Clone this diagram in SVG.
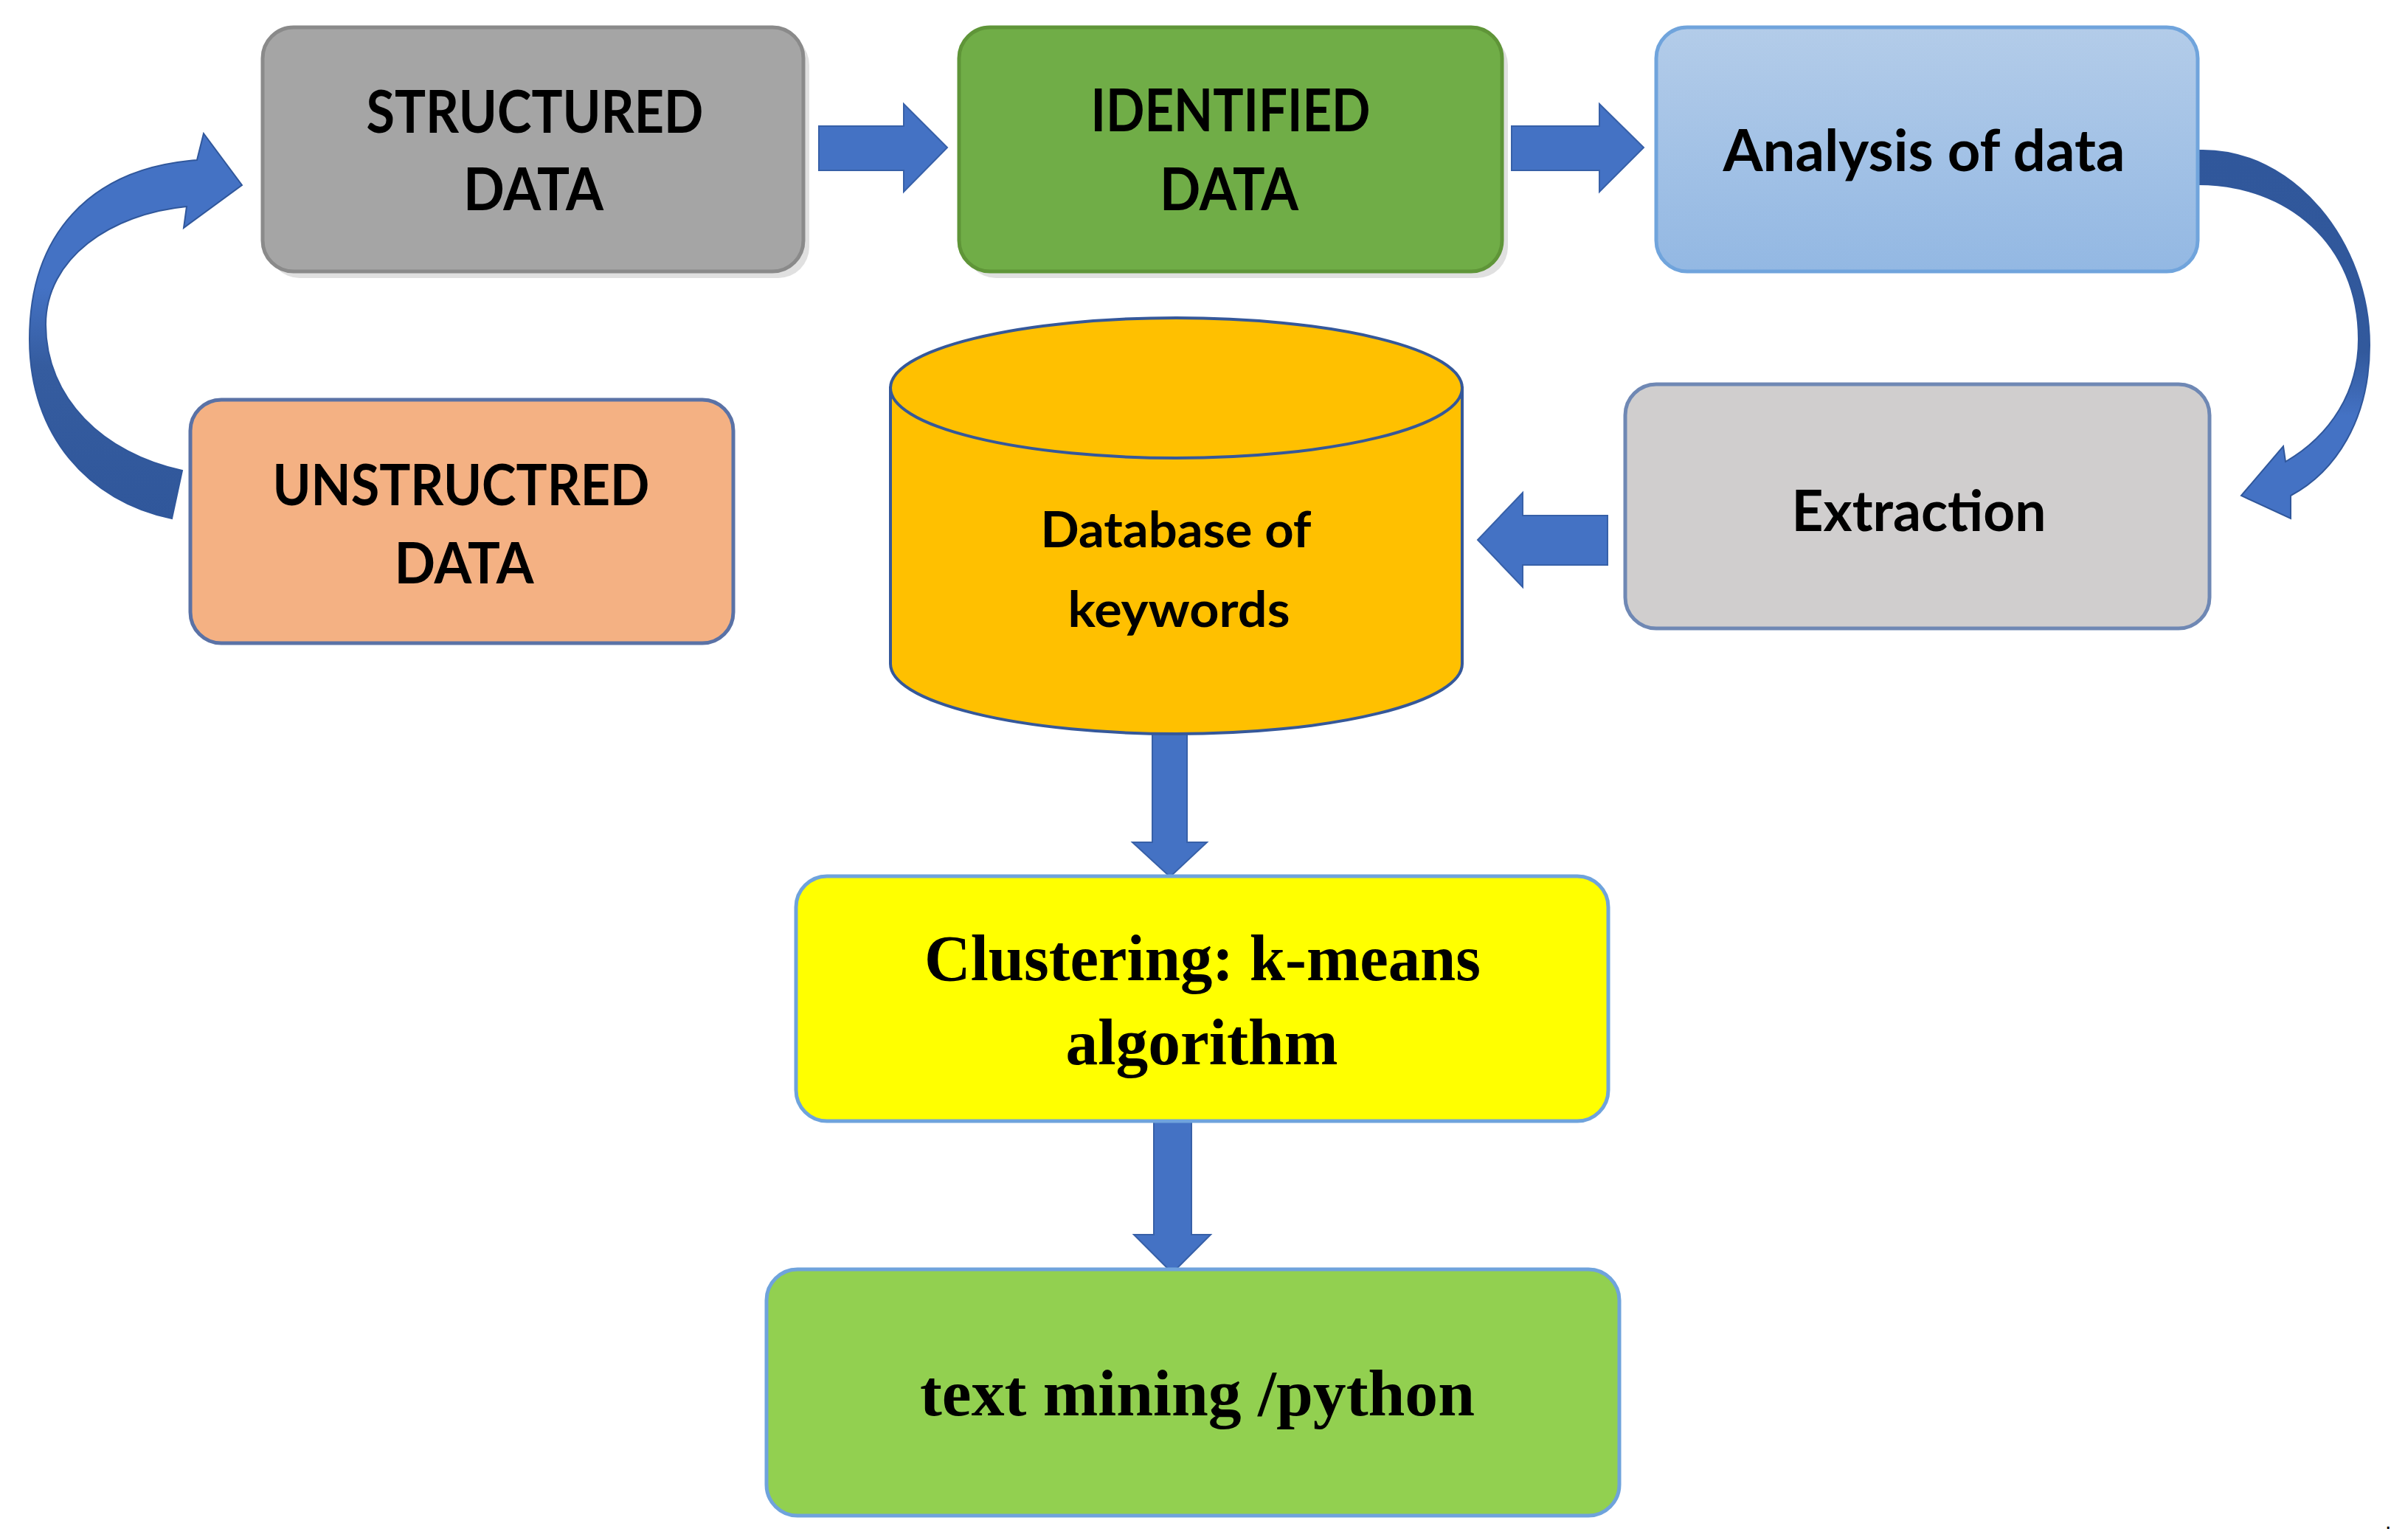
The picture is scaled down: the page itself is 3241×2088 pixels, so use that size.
<svg xmlns="http://www.w3.org/2000/svg" width="3241" height="2088" viewBox="0 0 3241 2088">
<defs>
<linearGradient id="gAnalysis" x1="0" y1="0" x2="0" y2="1">
<stop offset="0" stop-color="#b3cce9"/><stop offset="1" stop-color="#93b8e3"/>
</linearGradient>
<linearGradient id="gLeftArc" gradientUnits="userSpaceOnUse" x1="0" y1="180" x2="0" y2="705">
<stop offset="0" stop-color="#4472c4"/><stop offset="0.4" stop-color="#4472c4"/><stop offset="0.6" stop-color="#355c9f"/><stop offset="1" stop-color="#30579b"/>
</linearGradient>
<linearGradient id="gRightArc" gradientUnits="userSpaceOnUse" x1="0" y1="200" x2="0" y2="705">
<stop offset="0" stop-color="#30579b"/><stop offset="0.55" stop-color="#32599c"/><stop offset="0.72" stop-color="#4472c4"/><stop offset="1" stop-color="#4472c4"/>
</linearGradient>
</defs>
<style>
.sans{font-family:Lato,"Liberation Sans","DejaVu Sans",sans-serif;font-weight:bold;fill:#000;text-anchor:middle}
.serif{font-family:"Liberation Serif","DejaVu Serif",serif;font-weight:bold;fill:#000;text-anchor:middle}
.arrow{fill:#4472c4;stroke:#3760a8;stroke-width:2}
.shadow{fill:#000;opacity:0.12}
</style>
<rect width="3241" height="2088" fill="#ffffff"/>

<g id="connectors">
<path class="arrow" d="M1110,171 L1225,171 L1225,141 L1284,200 L1225,260 L1225,231 L1110,231 Z"/>
<path class="arrow" d="M2049,171 L2168,171 L2168,141 L2228,200 L2168,260 L2168,231 L2049,231 Z"/>
<path class="arrow" d="M2179,699 L2064,699 L2064,668 L2003,732 L2064,796 L2064,766 L2179,766 Z"/>
<path class="arrow" d="M1562,985 L1609,985 L1609,1142 L1636,1142 L1586,1189 L1535,1142 L1562,1142 Z"/>
<path class="arrow" d="M1564,1520 L1615,1520 L1615,1674 L1641,1674 L1589,1726 L1537,1674 L1564,1674 Z"/>
<path fill="url(#gLeftArc)" stroke="#30579b" stroke-width="2" d="M233,703 C120,680 40,590 40,460 C40,320 120,228 267,217 L276,181 L328,251 L249,309 L253,280 C150,290 62,350 62,440 C62,540 140,615 247,638 Z"/>
<path fill="url(#gRightArc)" stroke="#30579b" stroke-width="2" d="M2980,204 C3110,200 3212,330 3212,468 C3212,570 3165,640 3105,672 L3105,703 L3038,672 L3095,605 L3098,626 C3160,590 3197,530 3197,460 C3197,330 3100,250 2980,250 Z"/>
</g>

<g id="structured">
<rect class="shadow" x="364" y="46" width="733" height="331" rx="42"/>
<rect x="356" y="37" width="733" height="331" rx="42" fill="#a5a5a5" stroke="#8a8a8a" stroke-width="5"/>
<text class="sans" x="725" y="180" font-size="80" textLength="457" lengthAdjust="spacingAndGlyphs">STRUCTURED</text>
<text class="sans" x="723" y="285" font-size="80" textLength="190" lengthAdjust="spacingAndGlyphs">DATA</text>
</g>

<g id="identified">
<rect class="shadow" x="1308" y="46" width="736" height="331" rx="42"/>
<rect x="1300" y="37" width="736" height="331" rx="42" fill="#70ad47" stroke="#5f9538" stroke-width="5"/>
<text class="sans" x="1668" y="178" font-size="80" textLength="379" lengthAdjust="spacingAndGlyphs">IDENTIFIED</text>
<text class="sans" x="1666" y="285" font-size="80" textLength="188" lengthAdjust="spacingAndGlyphs">DATA</text>
</g>

<g id="analysis">
<rect x="2245" y="37" width="734" height="331" rx="42" fill="url(#gAnalysis)" stroke="#70a4dc" stroke-width="5"/>
<text class="sans" x="2608" y="232" font-size="78" textLength="545" lengthAdjust="spacingAndGlyphs">Analysis of data</text>
</g>

<g id="extraction">
<rect x="2203" y="521" width="792" height="331" rx="42" fill="#d0cece" stroke="#6f88b4" stroke-width="5"/>
<text class="sans" x="2601" y="720" font-size="76" textLength="345" lengthAdjust="spacingAndGlyphs">Extraction</text>
</g>

<g id="unstructured">
<rect x="258" y="542" width="736" height="330" rx="42" fill="#f4b183" stroke="#5a72a6" stroke-width="5"/>
<text class="sans" x="625" y="685" font-size="76" textLength="511" lengthAdjust="spacingAndGlyphs">UNSTRUCTRED</text>
<text class="sans" x="629" y="791" font-size="76" textLength="189" lengthAdjust="spacingAndGlyphs">DATA</text>
</g>

<g id="database">
<path d="M1207,526 L1207,900 A387.5,95 0 0 0 1982,900 L1982,526 Z" fill="#ffc000" stroke="#35589a" stroke-width="4"/>
<ellipse cx="1594.5" cy="526" rx="387.5" ry="95" fill="#ffc000" stroke="#35589a" stroke-width="4"/>
<text class="sans" x="1594" y="742" font-size="66" textLength="367" lengthAdjust="spacingAndGlyphs">Database of</text>
<text class="sans" x="1598" y="850" font-size="66" textLength="301" lengthAdjust="spacingAndGlyphs">keywords</text>
</g>

<g id="clustering">
<rect x="1079" y="1188" width="1101" height="332" rx="42" fill="#ffff00" stroke="#6fa3dc" stroke-width="5"/>
<text class="serif" x="1630" y="1329" font-size="88" textLength="754" lengthAdjust="spacingAndGlyphs">Clustering: k-means</text>
<text class="serif" x="1629" y="1443" font-size="88" textLength="369" lengthAdjust="spacingAndGlyphs">algorithm</text>
</g>

<g id="textmining">
<rect x="1039" y="1721" width="1156" height="334" rx="42" fill="#92d050" stroke="#6fa3dc" stroke-width="5"/>
<text class="serif" x="1623" y="1919" font-size="88" textLength="752" lengthAdjust="spacingAndGlyphs">text mining /python</text>
</g>

<text x="3233" y="2073" font-family="Liberation Sans, sans-serif" font-size="30" fill="#000">.</text>
</svg>
